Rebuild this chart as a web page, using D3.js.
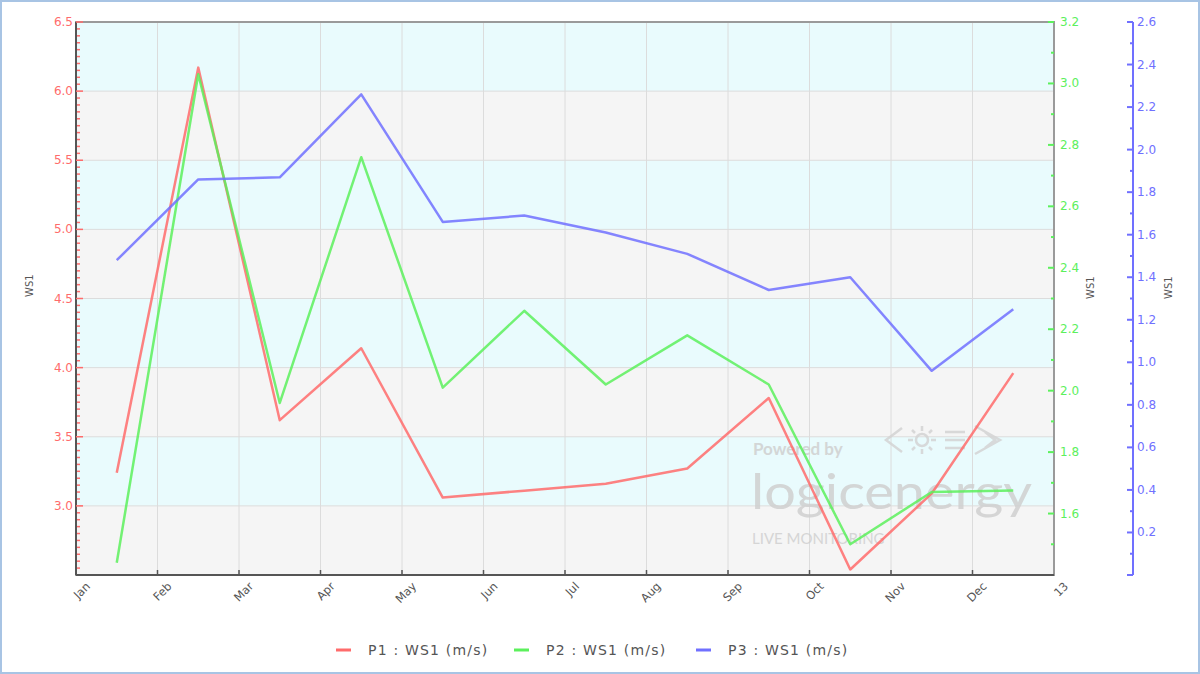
<!DOCTYPE html>
<html><head><meta charset="utf-8">
<script src="https://cdn.jsdelivr.net/npm/d3@7"></script>
<style>body{margin:0;background:#fff;}svg{display:block;font-family:"DejaVu Sans",sans-serif;}</style>
</head><body><svg id="c" width="1200" height="674"></svg>
<script>
const months = ["Jan","Feb","Mar","Apr","May","Jun","Jul","Aug","Sep","Oct","Nov","Dec","13"];
const p1 = [3.24,6.17,3.62,4.14,3.06,3.11,3.16,3.27,3.78,2.54,3.09,3.96];
const p2 = [1.44,3.03,1.96,2.76,2.01,2.26,2.02,2.18,2.02,1.50,1.67,1.675];
const p3 = [1.48,1.86,1.87,2.26,1.66,1.69,1.61,1.51,1.34,1.40,0.96,1.25];
const leftTicks = [3.0,3.5,4.0,4.5,5.0,5.5,6.0,6.5];
const greenTicks = [1.6,1.8,2.0,2.2,2.4,2.6,2.8,3.0,3.2];
const blueTicks = [0.2,0.4,0.6,0.8,1.0,1.2,1.4,1.6,1.8,2.0,2.2,2.4,2.6];
const seriesNames = ["P1 : WS1 (m/s)","P2 : WS1 (m/s)","P3 : WS1 (m/s)"];
const colors = ["#ff6b6b","#5cf05c","#7070ff"];

const svg = d3.select("#c");
const L=76,R=1054,T=22,B=575;
svg.append("rect").attr("x",1).attr("y",1).attr("width",1198).attr("height",672).attr("fill","#fff").attr("stroke","#a8c4e4").attr("stroke-width",2);

const x = d3.scaleLinear().domain([0,12]).range([L,R]);
const yL = d3.scaleLinear().domain([2.5,6.5]).range([B,T]);
const yG = d3.scaleLinear().domain([1.4,3.2]).range([B,T]);
const yB = d3.scaleLinear().domain([0,2.6]).range([B,T]);

// bands
const bandEdges = d3.range(2.5,6.5,0.5);
svg.append("g").selectAll("rect").data(bandEdges).join("rect")
  .attr("x",L).attr("width",R-L)
  .attr("y",d=>yL(d+0.5)).attr("height",d=>yL(d)-yL(d+0.5))
  .attr("fill",(d,i)=> i%2===1 ? "#e9fbfd" : "#f5f5f5");
// grid
svg.append("g").selectAll("line").data(leftTicks.slice(0,-1)).join("line")
  .attr("x1",L).attr("x2",R).attr("y1",d=>yL(d)).attr("y2",d=>yL(d)).attr("stroke","#dcdcdc");
svg.append("g").selectAll("line").data(d3.range(1,12)).join("line")
  .attr("y1",T).attr("y2",B).attr("x1",d=>x(d)).attr("x2",d=>x(d)).attr("stroke","#dcdcdc");

// watermark
const wm = svg.append("g").attr("fill","#d0d0d0").attr("opacity",0.85).attr("font-family","Lato, sans-serif");
wm.append("text").attr("x",753).attr("y",455).attr("font-size",17).attr("font-weight","bold").text("Powered by");
wm.append("text").attr("x",751).attr("y",509).attr("font-size",48).attr("textLength",281).attr("lengthAdjust","spacingAndGlyphs").text("logicenergy");
wm.append("text").attr("x",752).attr("y",544).attr("font-size",15).text("LIVE MONITORING");
const lg = svg.append("g").attr("fill","none").attr("stroke","#d4d4d4").attr("stroke-width",2.5).attr("opacity",0.85);
lg.append("path").attr("d","M902,428 L886,440 L902,452");
lg.append("circle").attr("cx",922).attr("cy",440).attr("r",6);
lg.append("path").attr("d","M922,426 L922,431 M922,449 L922,454 M908,440 L913,440 M931,440 L936,440 M912,430 L915,433 M929,447 L932,450 M912,450 L915,447 M929,433 L932,430");
lg.append("path").attr("d","M945,432 L965,432 M945,440 L965,440 M945,448 L965,448");
lg.append("path").attr("d","M975,426 L1000,440 L975,454 M985,432 L995,440 L985,448");

// frame
svg.append("rect").attr("x",L).attr("y",T).attr("width",R-L).attr("height",B-T).attr("fill","none").attr("stroke","#9a9a9a").attr("stroke-width",2);
svg.append("line").attr("x1",L).attr("x2",L).attr("y1",T).attr("y2",B).attr("stroke","#555").attr("stroke-width",2);
svg.append("line").attr("x1",L).attr("x2",R).attr("y1",B).attr("y2",B).attr("stroke","#555").attr("stroke-width",2);

// left axis
const ga = svg.append("g");
ga.selectAll("line.mn").data(d3.range(2.55,6.5,0.05).filter(v=>Math.abs(v*2-Math.round(v*2))>0.01)).join("line")
  .attr("x1",L+1).attr("x2",L+4).attr("y1",d=>yL(d)).attr("y2",d=>yL(d)).attr("stroke","#ff6b6b").attr("stroke-width",1.5);
ga.selectAll("line.mj").data(leftTicks).join("line")
  .attr("x1",L).attr("x2",L+7).attr("y1",d=>yL(d)).attr("y2",d=>yL(d)).attr("stroke","#ff6b6b").attr("stroke-width",1.5);
ga.selectAll("text").data(leftTicks).join("text")
  .attr("x",L-3).attr("y",d=>yL(d)+4).attr("text-anchor","end").attr("font-size",12).attr("fill","#ff6b6b").text(d=>d.toFixed(1));
svg.append("text").attr("transform","translate(33,297) rotate(-90)").attr("font-size",10).attr("fill","#555").text("WS1");

// green axis
const gg = svg.append("g");
gg.selectAll("line.mn").data(d3.range(1.5,3.2,0.2)).join("line")
  .attr("x1",R-3).attr("x2",R).attr("y1",d=>yG(d)).attr("y2",d=>yG(d)).attr("stroke","#5cf05c").attr("stroke-width",2);
gg.selectAll("line.mj").data(greenTicks).join("line")
  .attr("x1",R-6).attr("x2",R).attr("y1",d=>yG(d)).attr("y2",d=>yG(d)).attr("stroke","#5cf05c").attr("stroke-width",2);
gg.selectAll("text").data(greenTicks).join("text")
  .attr("x",R+6).attr("y",d=>yG(d)+4).attr("font-size",12).attr("fill","#5cf05c").text(d=>d.toFixed(1));
svg.append("text").attr("transform","translate(1094,299) rotate(-90)").attr("font-size",10).attr("fill","#555").text("WS1");

// blue axis
const BX=1133;
const gb = svg.append("g");
gb.append("line").attr("x1",BX).attr("x2",BX).attr("y1",T).attr("y2",B).attr("stroke","#7070ff").attr("stroke-width",2);
gb.selectAll("line.mn").data(d3.range(0.1,2.6,0.2)).join("line")
  .attr("x1",BX-3).attr("x2",BX).attr("y1",d=>yB(d)).attr("y2",d=>yB(d)).attr("stroke","#7070ff").attr("stroke-width",2);
gb.selectAll("line.mj").data([0].concat(blueTicks)).join("line")
  .attr("x1",BX-6).attr("x2",BX).attr("y1",d=>yB(d)).attr("y2",d=>yB(d)).attr("stroke","#7070ff").attr("stroke-width",2);
gb.selectAll("text").data(blueTicks).join("text")
  .attr("x",BX+4).attr("y",d=>yB(d)+4).attr("font-size",12).attr("fill","#7070ff").text(d=>d.toFixed(1));
svg.append("text").attr("transform","translate(1172,299) rotate(-90)").attr("font-size",10).attr("fill","#555").text("WS1");

// x axis ticks & labels
svg.append("g").selectAll("line").data(d3.range(1,12)).join("line")
  .attr("x1",d=>x(d)).attr("x2",d=>x(d)).attr("y1",B-5).attr("y2",B).attr("stroke","#555").attr("stroke-width",1.5);
svg.append("g").selectAll("text").data(months).join("text")
  .attr("transform",(d,i)=>`translate(${x(i)+15},${B+12}) rotate(-45)`)
  .attr("text-anchor","end").attr("font-size",11.5).attr("fill","#555").text(d=>d);

// lines
const allData = [[p1,yL],[p2,yG],[p3,yB]];
allData.forEach(([vals,ys],k)=>{
  const line = d3.line().x((d,i)=>x(i+0.5)).y(d=>ys(d));
  svg.append("path").datum(vals).attr("d",line).attr("fill","none")
    .attr("stroke",colors[k]).attr("stroke-width",2.5).attr("stroke-opacity",0.85).attr("stroke-linejoin","round");
});

// legend
const lx=[336,514,696];
seriesNames.forEach((n,k)=>{
  svg.append("line").attr("x1",lx[k]).attr("x2",lx[k]+15).attr("y1",650).attr("y2",650).attr("stroke",colors[k]).attr("stroke-width",3);
  svg.append("text").attr("x",lx[k]+32).attr("y",655).attr("font-size",14).attr("letter-spacing",1.2).attr("fill","#555").text(n);
});
</script></body></html>
